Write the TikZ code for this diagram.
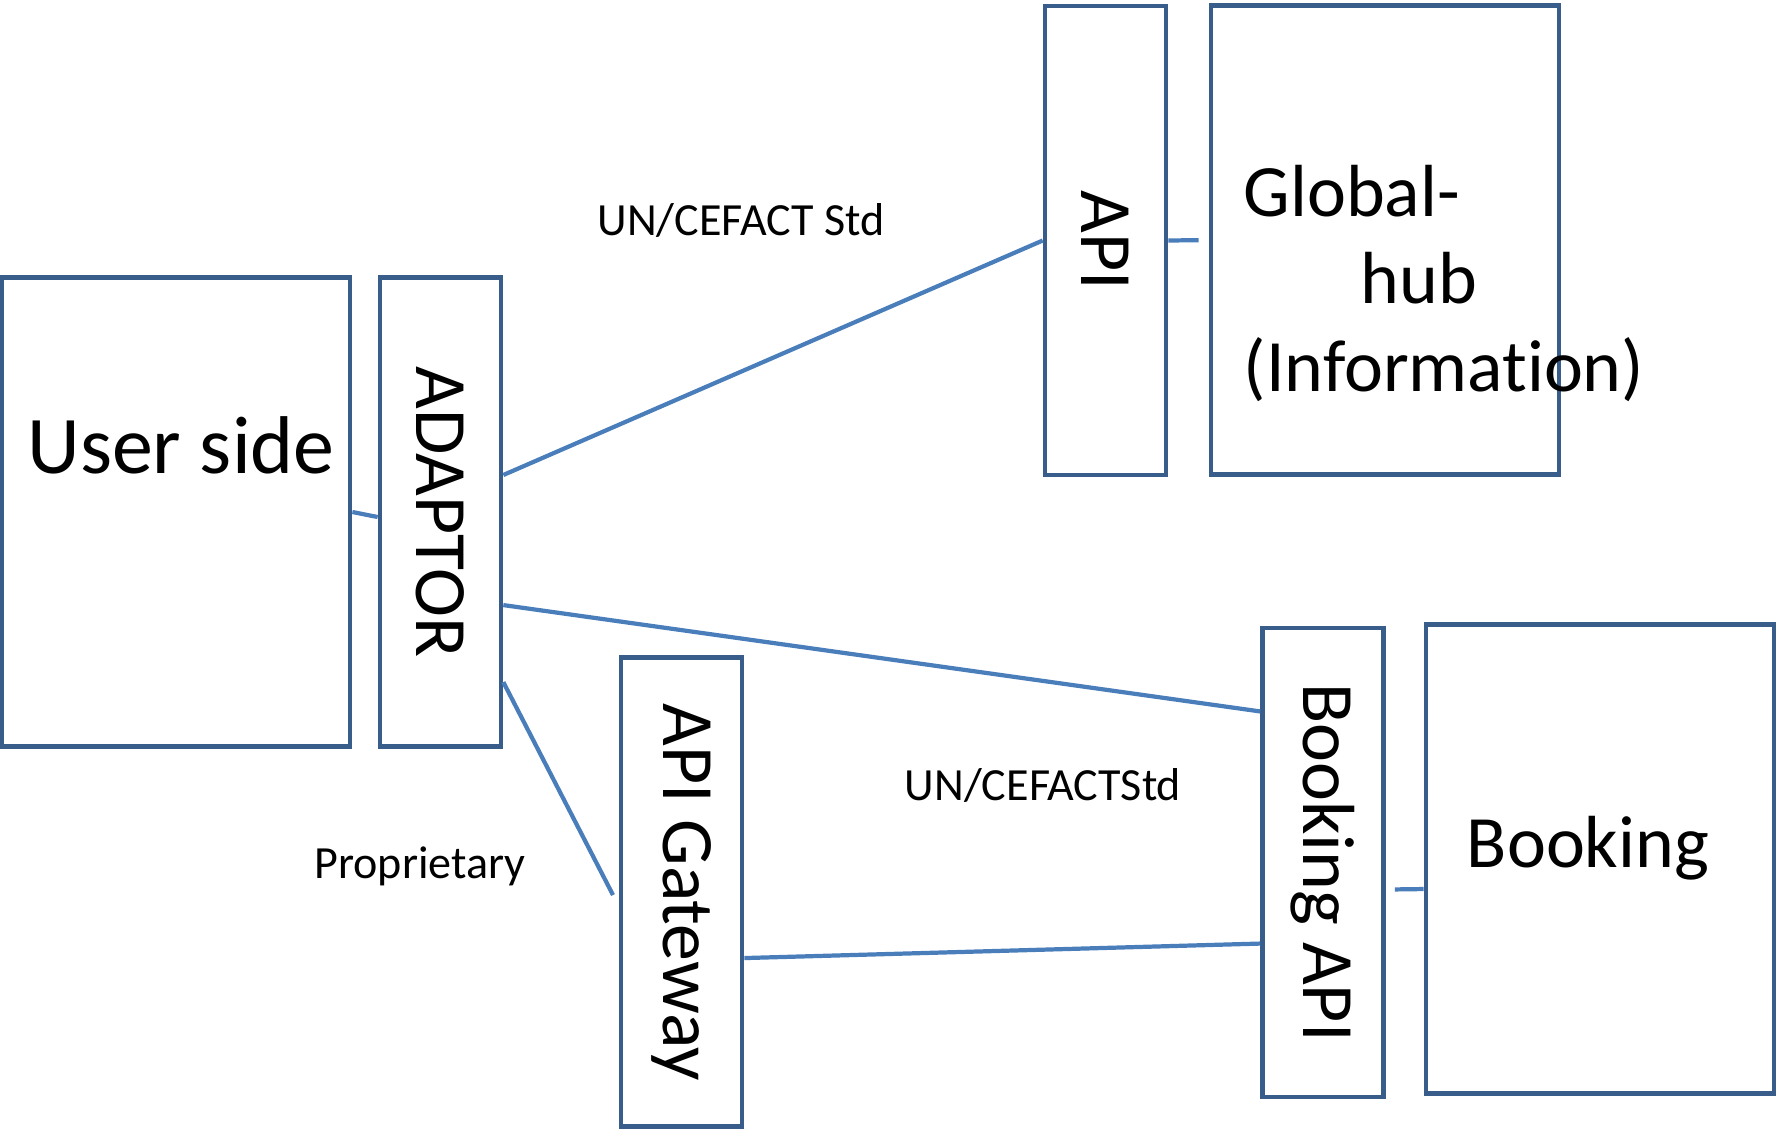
\documentclass[tikz,border=0pt]{standalone}
\usepackage{fontspec}
\setmainfont{Carlito}[Ligatures={NoCommon,NoContextual}]
\definecolor{boxblue}{HTML}{385D8A}
\definecolor{linkblue}{HTML}{4A7EBB}
\tikzstyle{box}=[draw=boxblue, line width=1.3pt, minimum width=3.48cm, minimum height=4.69cm, inner sep=0pt]
\tikzstyle{slim}=[draw=boxblue, line width=1.3pt, rotate=-90, minimum width=4.69cm, minimum height=1.21cm, inner sep=0pt, font=\fontsize{21}{25}\selectfont]
\tikzstyle{link}=[draw=linkblue, line width=1.2pt]
\tikzstyle{big}=[inner sep=0pt, font=\fontsize{21}{25}\selectfont]
\tikzstyle{small}=[inner sep=0pt, font=\fontsize{13.1}{15.7}\selectfont]

\begin{document}
\begin{tikzpicture}[x=0.01cm, y=-0.01cm]
            \useasboundingbox (0,0) rectangle (1777,1132);
            \node[box] (user) at (176,512) {};
            \node[big, font=\fontsize{23.3}{28}\selectfont, anchor=base] (usertext) at (181,473) {User side};
            \node[slim] (adaptor) at (440.5,512) {ADAPTOR};
            \node[slim] (api) at (1105.5,240.5) {API};
            \node[box] (hub) at (1385,240) {};
            \node[big, align=left, anchor=north west] (hubtext) at (1243,164) {Global-\\\hspace*{1.17cm}hub\\(Informat\kern0pt ion)};
            \node[slim] (gateway) at (681.5,892) {API Gateway};
            \node[slim] (bookapi) at (1323,862.5) {Booking API};
            \node[box] (booking) at (1600,859) {};
            \node[big, anchor=base] (bookingtext) at (1588,867) {Booking};
            \node[small, anchor=base] (std1) at (741,235) {UN/CEFACT Std};
            \node[small, anchor=base] (std2) at (1043,800) {UN/CEFACTStd};
            \node[small, anchor=base] (prop) at (420,878) {Proprietary};
            \coordinate (gwin) at (613,895);
            \draw[link] (user.east) -- ([yshift=-0.05cm]adaptor.south);
            \draw[link] ([yshift=0.37cm]adaptor.north) -- (api.south);
            \draw[link, shorten >=0.1cm] (api.north) -- (hub.west);
            \draw[link] ([yshift=-0.93cm]adaptor.north) -- ([yshift=1.51cm]bookapi.south);
            \draw[link] ([yshift=-1.70cm]adaptor.north) -- (gwin);
            \draw[link] ([yshift=-0.66cm]gateway.north) -- ([yshift=-0.81cm]bookapi.south);
            \draw[link, shorten <=0.09cm] ([yshift=-0.27cm]bookapi.north) -- ([yshift=-0.30cm]booking.west);
\end{tikzpicture}
\end{document}
